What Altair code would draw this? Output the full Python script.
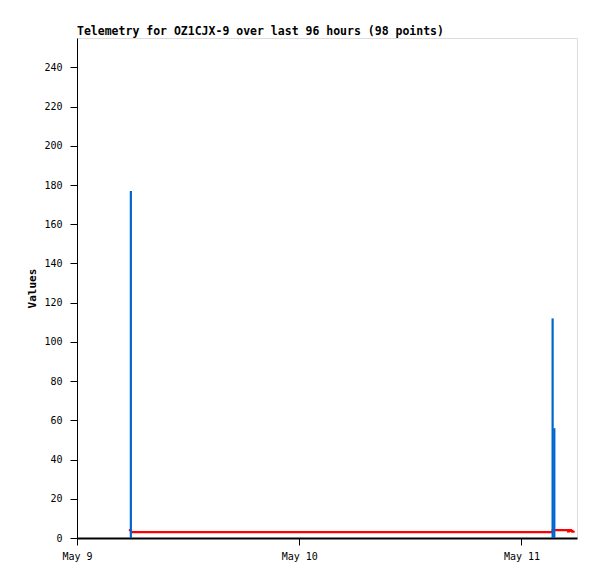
import altair as alt
import pandas as pd

# Red series (step-like telemetry channel)
red_times = [
    "2024-05-09T05:36:00", "2024-05-09T05:50:00", "2024-05-10T12:00:00",
    "2024-05-11T03:22:00", "2024-05-11T05:02:00", "2024-05-11T05:08:00",
    "2024-05-11T05:20:00", "2024-05-11T05:30:00", "2024-05-11T05:45:00",
]
red_values = [4, 3, 3, 4, 3.4, 4, 3.6, 3.2, 3.2]

# Blue series (impulse spikes)
blue_times = ["2024-05-09T05:49:00", "2024-05-11T03:22:00", "2024-05-11T03:33:00"]
blue_values = [177, 112, 56]

y_ticks = list(range(0, 241, 20))
x_ticks = [(2024, 5, 9), (2024, 5, 10), (2024, 5, 11)]

red_df = pd.DataFrame({"t": red_times, "v": red_values})
blue_df = pd.DataFrame({"t": blue_times, "v": blue_values})

FONT = "DejaVu Sans Mono"

xscale = alt.Scale(domain=[
    alt.DateTime(year=2024, month=5, date=9, hours=0),
    alt.DateTime(year=2024, month=5, date=11, hours=6),
])
yscale = alt.Scale(domain=[0, 255], nice=False)

xaxis = alt.Axis(
    title=None,
    values=[alt.DateTime(year=y, month=m, date=d) for (y, m, d) in x_ticks],
    format="%b %-d",
    grid=False,
    domainColor="black",
    domainWidth=2,
    tickColor="black",
    tickSize=7,
    labelPadding=6,
    labelAlign="center",
    labelFont=FONT,
    labelFontSize=10,
    labelColor="black",
)
yaxis = alt.Axis(
    title="Values",
    values=y_ticks,
    grid=False,
    domainColor="black",
    tickColor="black",
    tickSize=7,
    labelPadding=8,
    labelFont=FONT,
    labelFontSize=10,
    labelColor="black",
    titleFont=FONT,
    titleFontSize=11,
    titleFontWeight="bold",
    titleColor="black",
    titlePadding=6,
)

red = alt.Chart(red_df).mark_line(
    color="#ff0000", strokeWidth=2.2, interpolate="step-after"
).encode(
    x=alt.X("t:T", scale=xscale, axis=xaxis),
    y=alt.Y("v:Q", scale=yscale, axis=yaxis),
)

blue = alt.Chart(blue_df).mark_rule(color="#0066cc", strokeWidth=2.2).encode(
    x=alt.X("t:T", scale=xscale),
    y=alt.Y("v:Q", scale=yscale),
    y2=alt.datum(0),
)

chart = alt.layer(red, blue).properties(
    width=500,
    height=500,
    title=alt.TitleParams(
        "Telemetry for OZ1CJX-9 over last 96 hours (98 points)",
        anchor="start",
        frame="group",
        font=FONT,
        fontSize=11.5,
        fontWeight="bold",
        color="black",
        offset=1,
    ),
    autosize=alt.AutoSizeParams(type="none"),
    padding={"left": 69, "top": 30, "right": 12, "bottom": 33},
).configure_view(stroke="#555555", strokeWidth=1).configure(background="white")

chart.save("out.html", embed_options={"renderer": "svg", "actions": False})
